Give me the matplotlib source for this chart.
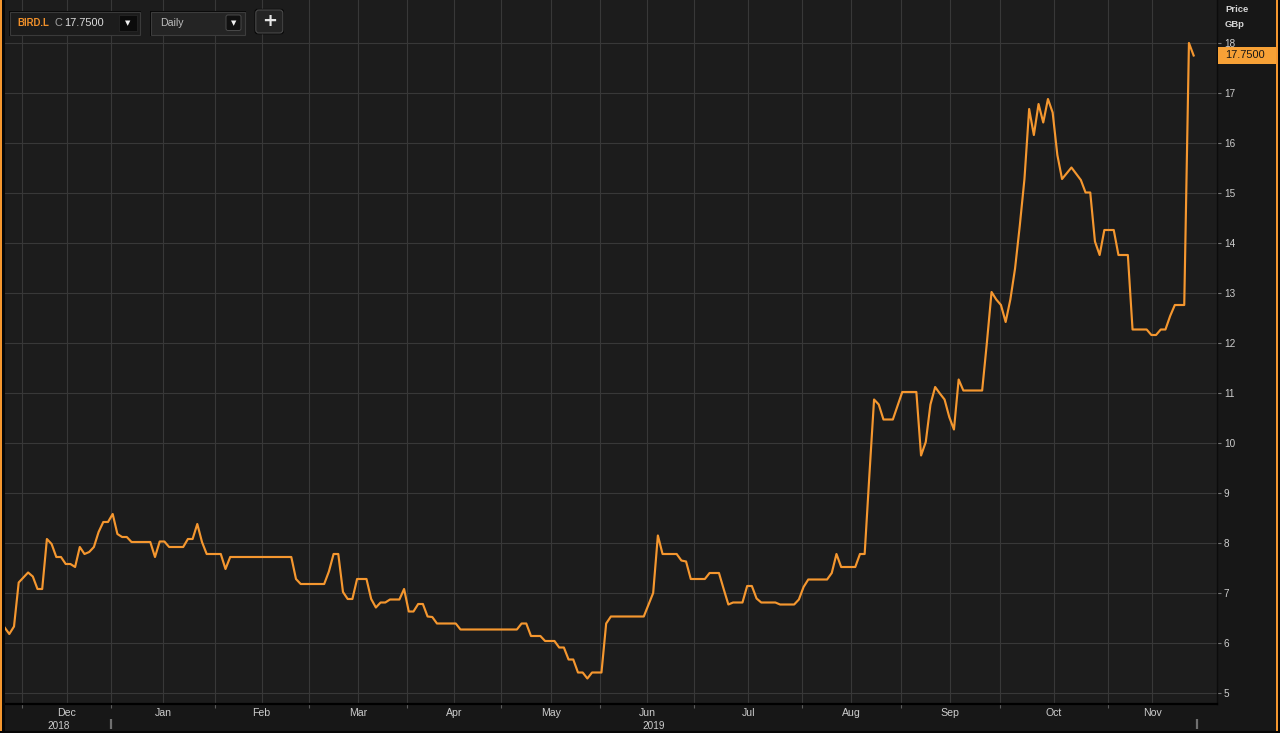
import matplotlib
matplotlib.use('Agg')
import matplotlib.pyplot as plt
import matplotlib.transforms as mtransforms
from matplotlib.patches import Rectangle, FancyBboxPatch
import numpy as np
import pandas as pd

plt.rcParams['font.family'] = ['Liberation Sans', 'DejaVu Sans']

W, H = 1280, 733
PANEL = '#1c1c1c'
OUTER = '#171717'
GRID = '#383838'
ORANGE = '#f5972f'
TXT = '#cdcdcd'

# LSE holidays inside the window -> trading sessions on the x axis
HOLIDAYS = ['2018-12-25', '2018-12-26', '2019-01-01', '2019-04-19',
            '2019-04-22', '2019-05-06', '2019-05-27', '2019-08-26']
sessions = pd.bdate_range('2018-11-27', '2019-11-27', freq='C', holidays=HOLIDAYS)

# daily close (GBp), turning points only - flat runs keep their two ends
dates = [
    '2018-11-27', '2018-11-28', '2018-11-29', '2018-11-30', '2018-12-03', '2018-12-04',
    '2018-12-05', '2018-12-06', '2018-12-07',
    '2018-12-10', '2018-12-11', '2018-12-12', '2018-12-13', '2018-12-14', '2018-12-17',
    '2018-12-18', '2018-12-19', '2018-12-20', '2018-12-21', '2018-12-24', '2018-12-27',
    '2018-12-28', '2018-12-31',
    '2019-01-02', '2019-01-03', '2019-01-04', '2019-01-07', '2019-01-08', '2019-01-14',
    '2019-01-15', '2019-01-16', '2019-01-17', '2019-01-18', '2019-01-23', '2019-01-24',
    '2019-01-25', '2019-01-28', '2019-01-29', '2019-01-30',
    '2019-02-04', '2019-02-05', '2019-02-06', '2019-02-25', '2019-02-26', '2019-02-27',
    '2019-03-06', '2019-03-07', '2019-03-08', '2019-03-11', '2019-03-12', '2019-03-13',
    '2019-03-14', '2019-03-15', '2019-03-19', '2019-03-20', '2019-03-21', '2019-03-22',
    '2019-03-25', '2019-03-26', '2019-03-28', '2019-03-29',
    '2019-04-01', '2019-04-02', '2019-04-03', '2019-04-04', '2019-04-05', '2019-04-08',
    '2019-04-09', '2019-04-15', '2019-04-16',
    '2019-05-07', '2019-05-08', '2019-05-09', '2019-05-10', '2019-05-14', '2019-05-15',
    '2019-05-17', '2019-05-20', '2019-05-21', '2019-05-22', '2019-05-23', '2019-05-24',
    '2019-05-28', '2019-05-29', '2019-05-30',
    '2019-06-03', '2019-06-04', '2019-06-05', '2019-06-14', '2019-06-18', '2019-06-19',
    '2019-06-20', '2019-06-25', '2019-06-26', '2019-06-27', '2019-06-28',
    '2019-07-03', '2019-07-04', '2019-07-08', '2019-07-09', '2019-07-10', '2019-07-11',
    '2019-07-15', '2019-07-16', '2019-07-17', '2019-07-18', '2019-07-19', '2019-07-24',
    '2019-07-25', '2019-07-30', '2019-07-31',
    '2019-08-01', '2019-08-02', '2019-08-08', '2019-08-09', '2019-08-12', '2019-08-13',
    '2019-08-16', '2019-08-19', '2019-08-20', '2019-08-21', '2019-08-22', '2019-08-23',
    '2019-08-27', '2019-08-29',
    '2019-09-02', '2019-09-05', '2019-09-06', '2019-09-09', '2019-09-10', '2019-09-11',
    '2019-09-12', '2019-09-13', '2019-09-16', '2019-09-17', '2019-09-18', '2019-09-19',
    '2019-09-25', '2019-09-26', '2019-09-27', '2019-09-30',
    '2019-10-01', '2019-10-02', '2019-10-03', '2019-10-04', '2019-10-07', '2019-10-08',
    '2019-10-09', '2019-10-10', '2019-10-11', '2019-10-14', '2019-10-15', '2019-10-16',
    '2019-10-17', '2019-10-18', '2019-10-22', '2019-10-24', '2019-10-25', '2019-10-28',
    '2019-10-29', '2019-10-30', '2019-10-31',
    '2019-11-04', '2019-11-05', '2019-11-07', '2019-11-08', '2019-11-13', '2019-11-14',
    '2019-11-15', '2019-11-18', '2019-11-19', '2019-11-20', '2019-11-21', '2019-11-25',
    '2019-11-26', '2019-11-27',
]
close = [
    6.31, 6.18, 6.33, 7.21, 7.31, 7.41, 7.33, 7.08, 7.08,
    8.08, 7.98, 7.72, 7.72, 7.58, 7.58, 7.52, 7.92, 7.78, 7.82, 7.92, 8.22, 8.42, 8.42,
    8.58, 8.18, 8.12, 8.12, 8.02, 8.02, 7.72, 8.03, 8.03, 7.92, 7.92, 8.08, 8.08, 8.38,
    8.02, 7.78,
    7.78, 7.48, 7.72, 7.72, 7.28, 7.18,
    7.18, 7.43, 7.78, 7.78, 7.02, 6.88, 6.88, 7.28, 7.28, 6.88, 6.71, 6.81, 6.81, 6.87,
    6.87, 7.08,
    6.63, 6.63, 6.78, 6.78, 6.53, 6.52, 6.39, 6.39, 6.27,
    6.27, 6.39, 6.39, 6.14, 6.14, 6.04, 6.04, 5.91, 5.91, 5.67, 5.67, 5.41, 5.41, 5.29,
    5.41,
    5.41, 6.39, 6.53, 6.53, 7.00, 8.15, 7.78, 7.78, 7.65, 7.63, 7.28,
    7.28, 7.40, 7.40, 7.08, 6.77, 6.81, 6.81, 7.14, 7.14, 6.89, 6.81, 6.81, 6.77, 6.77,
    6.87,
    7.12, 7.27, 7.27, 7.40, 7.78, 7.52, 7.52, 7.78, 7.78, 9.35, 10.87, 10.77, 10.47, 10.47,
    11.02, 11.02, 9.75, 10.02, 10.77, 11.12, 10.99, 10.87, 10.52, 10.27, 11.27, 11.05,
    11.05, 12.00, 13.02, 12.87,
    12.76, 12.42, 12.87, 13.49, 14.34, 15.28, 16.68, 16.16, 16.78, 16.41, 16.88, 16.61,
    15.76, 15.28, 15.51, 15.26, 15.01, 15.01, 14.03, 13.76, 14.26,
    14.26, 13.76, 13.76, 12.27, 12.27, 12.16, 12.16, 12.27, 12.27, 12.54, 12.76, 12.76,
    18.00, 17.75,
]
yticks = list(range(5, 19))
ticker, interval = 'BIRD.L', 'Daily'

pos = sessions.get_indexer(pd.to_datetime(dates))

# month blocks on the session axis
per = sessions.to_period('M')
starts = np.flatnonzero(np.r_[True, per[1:] != per[:-1]])[1:]
bounds = starts - 0.3
end = len(sessions) - 0.3
edges = np.r_[bounds, end]
centres = (edges[:-1] + edges[1:]) / 2
month_lab = [p.strftime('%b') for p in per[starts]]
jan = bounds[[p.month for p in per[starts]].index(1)]

fig = plt.figure(figsize=(W / 100, H / 100), dpi=100, facecolor=OUTER)
ax = fig.add_axes([5 / W, 29 / H, 1212 / W, 704 / H], facecolor=PANEL)
ax.set_xlim(0.085, 257.97)
ax.set_ylim(4.78, 18.86)

for b in np.r_[bounds, centres]:
    ax.axvline(b, color=GRID, lw=0.8, zorder=1)
ax.set_yticks(yticks)
ax.grid(axis='y', color=GRID, lw=0.8)
ax.set_axisbelow(True)

ax.plot(pos, close, color=ORANGE, lw=1.55, zorder=3)

ax.yaxis.tick_right()
ax.tick_params(axis='y', length=3, width=0.8, color='#777777',
               labelcolor=TXT, labelsize=7.2, pad=2)
ax.set_xticks(bounds)
ax.set_xticklabels([])
ax.set_xticks(centres, minor=True)
ax.set_xticklabels(month_lab, minor=True)
ax.tick_params(axis='x', which='major', length=3, width=0.8, color='#5c5c5c')
ax.tick_params(axis='x', which='minor', length=0, pad=3.2, labelsize=7.6, labelcolor=TXT)
for s in ('top', 'left'):
    ax.spines[s].set_visible(False)
ax.spines['bottom'].set_color('#000000')
ax.spines['bottom'].set_linewidth(1.6)
ax.spines['right'].set_color('#0c0c0c')
ax.spines['right'].set_linewidth(1)

# ── chrome overlay in pixel units ──
fx = fig.add_axes([0, 0, 1, 1], facecolor='none', zorder=5)
fx.set_xlim(0, W)
fx.set_ylim(H, 0)
fx.axis('off')
fx.set_autoscale_on(False)

fx.add_patch(Rectangle((0, 0), 2.2, H, color=ORANGE, lw=0))
fx.add_patch(Rectangle((2.2, 0), 2.8, H, color='#060606', lw=0))
fx.add_patch(Rectangle((1276.3, 0), 2.0, H, color=ORANGE, lw=0))
fx.add_patch(Rectangle((1278.3, 0), 2.0, H, color='#060606', lw=0))
fx.add_patch(Rectangle((0, 731.2), W, 2, color='#060606', lw=0))

# year row
bt = mtransforms.blended_transform_factory(ax.transData, fx.transData)
for xb in (jan, end):
    fx.plot([xb, xb], [718.5, 729], color='#707070', lw=1.6, transform=bt,
            solid_capstyle='butt', clip_on=False)
fx.text((ax.get_xlim()[0] + jan) / 2, 729.3, '2018', transform=bt, ha='center',
        va='baseline', color=TXT, fontsize=7.2)
fx.text((jan + end) / 2, 729.3, '2019', transform=bt, ha='center',
        va='baseline', color=TXT, fontsize=7.2)

# axis header
fx.text(1225, 12, 'Price', color='#d6d6d6', fontsize=6.8, fontweight='bold', va='baseline')
fx.text(1225, 26.7, 'GBp', color='#d6d6d6', fontsize=6.8, fontweight='bold', va='baseline')

# last price tag
pt = mtransforms.blended_transform_factory(fx.transData, ax.transData)
fx.add_patch(Rectangle((1218, close[-1] - 0.165), 58.3, 0.33, transform=pt,
                       color='#f7a136', lw=0, clip_on=False))
fx.text(1225.5, close[-1], f'{close[-1]:.4f}', transform=pt, va='center', ha='left',
        color='#161616', fontsize=7.9)

# toolbar
fx.add_patch(Rectangle((9, 11), 132, 24.5, color='#080808', lw=0))
fx.add_patch(Rectangle((10, 12), 130, 22.5, facecolor='#1c1c1c', edgecolor='#3a3a3a', lw=0.8))
fx.add_patch(Rectangle((119, 14.5), 18, 16.5, facecolor='#0b0b0b', edgecolor='#262626', lw=0.6))
fx.text(128, 23, '▼', ha='center', va='center', color='#f0f0f0', fontsize=5,
        family='DejaVu Sans')
fx.text(17.5, 23.3, ticker, color='#f0902a', fontsize=6.9, fontweight='bold', va='center')
fx.text(54.5, 23.3, 'C', color='#a0a0a0', fontsize=7.9, va='center')
fx.text(64, 23.3, f'{close[-1]:.4f}', color='#dcdcdc', fontsize=7.9, va='center')

fx.add_patch(Rectangle((150, 11), 96, 24.5, color='#080808', lw=0))
fx.add_patch(Rectangle((151, 12), 94, 22.5, facecolor='#242424', edgecolor='#3c3c3c', lw=0.8))
fx.add_patch(FancyBboxPatch((226, 15), 15, 15.5, boxstyle='round,pad=0,rounding_size=2',
                            facecolor='#101010', edgecolor='#4a4a4a', lw=0.7))
fx.text(233.5, 23, '▼', ha='center', va='center', color='#f0f0f0', fontsize=5,
        family='DejaVu Sans')
fx.text(160, 23.3, interval, color='#bdbdbd', fontsize=7.6, va='center')

fx.add_patch(FancyBboxPatch((254.5, 8.8), 29.5, 25.5, boxstyle='round,pad=0,rounding_size=3',
                            facecolor='#080808', edgecolor='none'))
fx.add_patch(FancyBboxPatch((255.8, 10), 27, 23, boxstyle='round,pad=0,rounding_size=3',
                            facecolor='#242424', edgecolor='#4a4a4a', lw=0.8))
fx.text(269.3, 21.5, '+', ha='center', va='center', color='#e6e6e6', fontsize=13,
        fontweight='bold', family='DejaVu Sans')

fig.savefig('out.png', dpi=100, facecolor=OUTER)
